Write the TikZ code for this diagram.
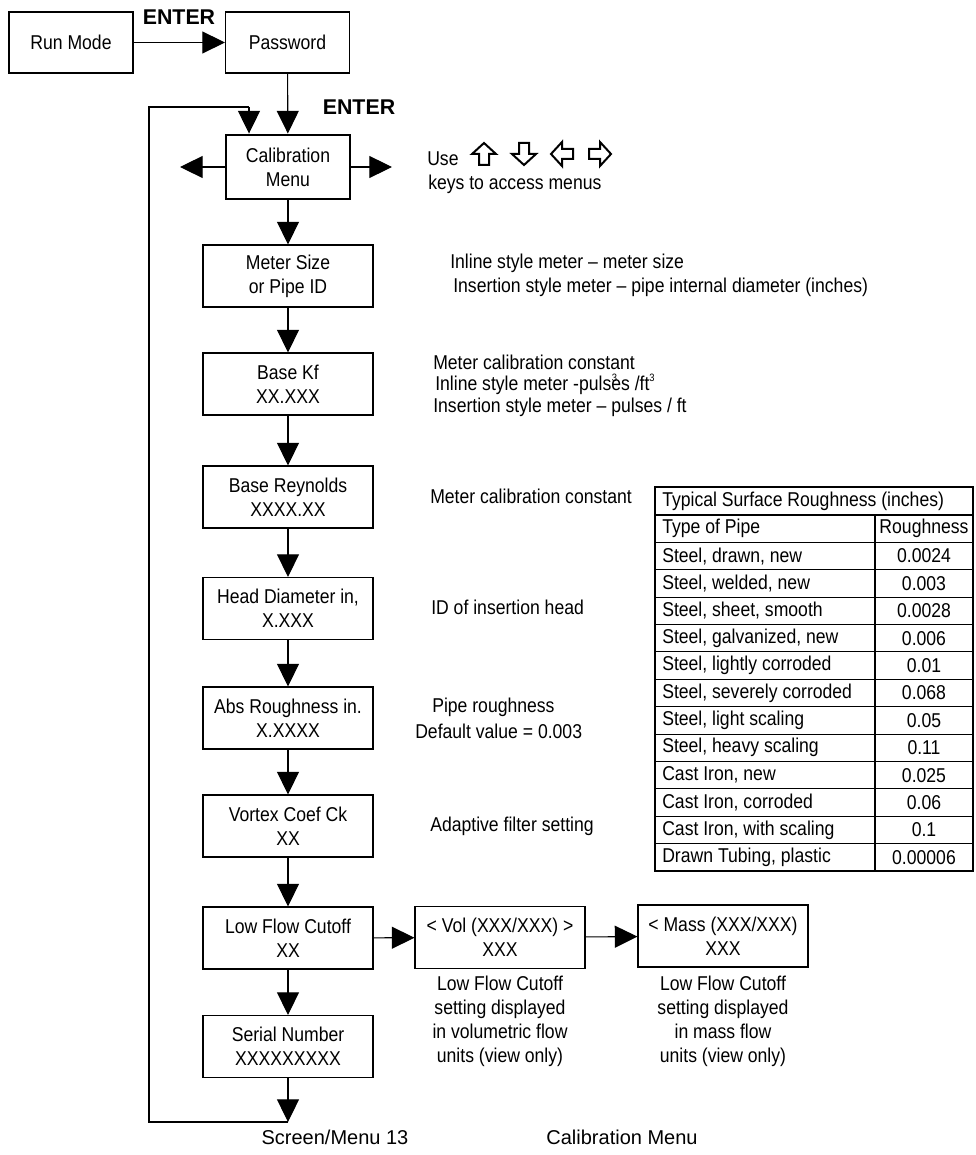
\documentclass[tikz,border=0pt]{standalone}
\usepackage{fontspec}
\setmainfont{Liberation Sans}
\newfontfamily\narrowfont{Liberation Sans}[FakeStretch=0.88]
\usetikzlibrary{arrows.meta}
\begin{document}
\begin{tikzpicture}[x=0.75pt,y=-0.75pt,
  every node/.style={inner sep=0pt},
  txt/.style={font=\narrowfont\fontsize{15}{18}\selectfont},
  box/.style={draw, line width=0.8pt, minimum width=127.5pt, minimum height=46.5pt, align=center, txt},
  topbox/.style={box, minimum width=93pt, minimum height=45.75pt},
  calbox/.style={box, minimum width=93pt, minimum height=48pt, line width=2.2pt},
  desc/.style={anchor=west, align=left, txt},
  note/.style={align=center, txt},
  lbl/.style={font=\bfseries\fontsize{16}{16}\selectfont},
  keyarr/.pic={\draw[line width=1.5pt, line join=miter] (0,-11) -- (12,0) -- (5,0) -- (5,11) -- (-5,11) -- (-5,0) -- (-12,0) -- cycle;},
  conn/.style={line width=0.8pt, -{Triangle[width=16.5pt,length=17pt]}},
  plain/.style={line width=0.8pt},
  cell/.style={anchor=west, txt},
  bottomcap/.style={font=\fontsize{15}{18}\selectfont}
]
\useasboundingbox (0,0) rectangle (975,1155);

% boxes
\node[topbox] (run) at (71,42.5) {Run Mode};
\node[topbox] (pw) at (287.5,42.5) {Password};
\node[calbox] (cal) at (288,167) {Calibration\\Menu};
\node[box] (meter) at (288,276) {Meter Size\\or Pipe ID};
\node[box] (kf) at (288,384) {Base Kf\\XX.XXX};
\node[box] (re) at (288,497) {Base Reynolds\\XXXX.XX};
\node[box] (head) at (288,608.5) {Head Diameter in,\\X.XXX};
\node[box] (abs) at (288,718) {Abs Roughness in.\\X.XXXX};
\node[box] (vort) at (288,826) {Vortex Coef Ck\\XX};
\node[box] (low) at (288,938) {Low Flow Cutoff\\XX};
\node[box] (ser) at (288,1046.5) {Serial Number\\XXXXXXXXX};
\node[box] (vol) at (500,937.5) {\textless{} Vol (XXX/XXX) \textgreater\\XXX};
\node[box] (mass) at (723,936) {\textless{} Mass (XXX/XXX)\\XXX};

% labels
\node[lbl] (ent1) at (179,17) {ENTER};
\node[lbl] (ent2) at (359,107) {ENTER};

% connectors
\draw[conn] (run) -- (pw);
\draw[conn] (pw) -- (cal);
\coordinate (calL) at (180,167);
\coordinate (calR) at (392,167);
\draw[conn] (cal.west) -- (calL);
\draw[conn] (cal.east) -- (calR);
\draw[conn] (cal) -- (meter);
\draw[conn] (meter) -- (kf);
\draw[conn] (kf) -- (re);
\draw[conn] (re) -- (head);
\draw[conn] (head) -- (abs);
\draw[conn] (abs) -- (vort);
\draw[conn] (vort) -- (low);
\draw[conn] (low) -- (ser);
\draw[conn] (low) -- (vol);
\draw[conn] (vol) -- (mass);
\coordinate (bot) at (288,1122);
\coordinate (loopBL) at (149,1122);
\coordinate (loopTL) at (149,107);
\coordinate (loopTR) at (249,107);
\draw[conn] (ser) -- (bot);
\draw[plain] (bot) -- (loopBL) -- (loopTL) -- (loopTR);
\draw[conn] (loopTR) -- (loopTR |- cal.north);

% descriptions
\node[desc] (use) at (427,159) {Use};
\pic at (484,154) {keyarr};
\pic[rotate=180] at (524,154) {keyarr};
\pic[rotate=90] at (562,154) {keyarr};
\pic[rotate=-90] at (600,154) {keyarr};
\node[desc] (keys) at (428,184) {keys to access menus};
\node[desc] (d1a) at (450,263) {Inline style meter – meter size};
\node[desc] (d1b) at (453,287) {Insertion style meter – pipe internal diameter (inches)};
\node[desc] (d2a) at (433,362) {Meter calibration constant};
\node[desc] (d2b) at (435,384) {Inline style meter -pulse\makebox[0pt][r]{\raisebox{0.45em}{\fontsize{8}{8}\selectfont 3}\hspace{0.2em}}s /ft\raisebox{0.45em}{\fontsize{8}{8}\selectfont 3}};
\node[desc] (d2c) at (433,407) {Insertion style meter – pulses / ft};
\node[desc] (d3) at (430,496) {Meter calibration constant};
\node[desc] (d4) at (431,607) {ID of insertion head};
\node[desc] (d5a) at (432,707) {Pipe roughness};
\node[desc] (d5b) at (415,731) {Default value = 0.003};
\node[desc] (d6) at (430,826) {Adaptive filter setting};

\node[note, anchor=north] (n1) at (500,976) {Low Flow Cutoff\\setting displayed\\in volumetric flow\\units (view only)};
\node[note, anchor=north] (n2) at (723,976) {Low Flow Cutoff\\setting displayed\\in mass flow\\units (view only)};

% table
\draw[plain] (655,487) rectangle (973,871);
\draw[plain] (655,515) -- (973,515);
\draw[plain] (875,515) -- (875,871);
\foreach \k in {1,...,12} {
  \draw[plain] (655,{515+\k*27.385}) -- (973,{515+\k*27.385});
}
\node[cell] (tt) at (662,501) {Typical Surface Roughness (inches)};
\node[cell] (th1) at (662,528.7) {Type of Pipe};
\node[txt] (th2) at (924,528.7) {Roughness};
\foreach \t/\v [count=\i] in {
  {Steel, drawn, new}/{0.0024},
  {Steel, welded, new}/{0.003},
  {Steel, sheet, smooth}/{0.0028},
  {Steel, galvanized, new}/{0.006},
  {Steel, lightly corroded}/{0.01},
  {Steel, severely corroded}/{0.068},
  {Steel, light scaling}/{0.05},
  {Steel, heavy scaling}/{0.11},
  {Cast Iron, new}/{0.025},
  {Cast Iron, corroded}/{0.06},
  {Cast Iron, with scaling}/{0.1},
  {Drawn Tubing, plastic}/{0.00006}} {
  \node[cell] (t\i) at (662,{515+(\i+0.5)*27.385}) {\t};
  \node[txt] (v\i) at (924,{515+(\i+0.5)*27.385}) {\v};
}

% captions
\node[bottomcap] (c1) at (335,1137) {Screen/Menu 13};
\node[bottomcap] (c2) at (622,1137) {Calibration Menu};
\end{tikzpicture}
\end{document}
